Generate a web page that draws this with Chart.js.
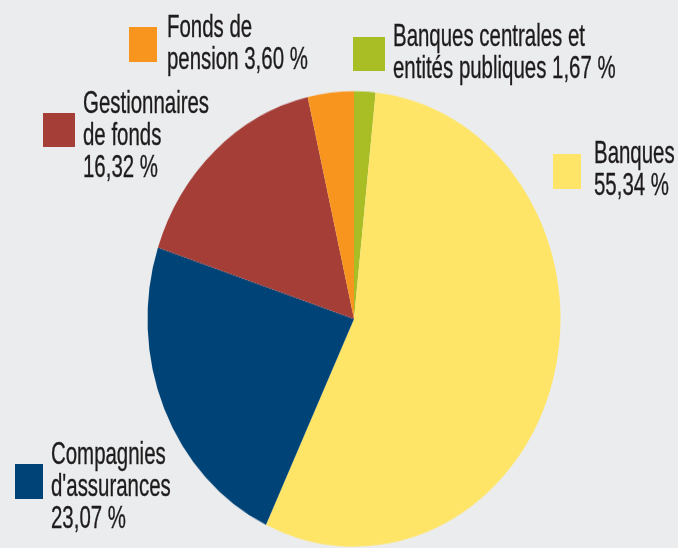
<!DOCTYPE html>
<html>
<head>
<meta charset="utf-8">
<script src="https://cdn.jsdelivr.net/npm/chart.js@4.4.0/dist/chart.umd.min.js"></script>
<style>
  html, body { margin: 0; padding: 0; background: #ebecee; }
  #wrap { position: relative; width: 678px; height: 548px; overflow: hidden; background: #ebecee; }
  #pieBox { position: absolute; left: 0; top: 0; width: 678px; height: 497px; transform-origin: 0 0; transform: scaleY(1.1026); }
  .lbl { position: absolute; font-family: "Liberation Sans", Arial, sans-serif; font-size: 30.5px; line-height: 32px;
         color: #1e1b1c; -webkit-text-stroke: 0.35px #1e1b1c; white-space: nowrap; transform-origin: 0 0; transform: scaleX(0.67); }
  .sw { position: absolute; }
</style>
</head>
<body>
<div id="wrap">
  <div id="pieBox"><canvas id="pie" width="678" height="497"></canvas></div>
</div>
<script>
// ---- data (clockwise from 12 o'clock) ----
const CATEGORIES = [
  ['Banques centrales et', 'entités publiques'],
  ['Banques'],
  ['Compagnies', "d'assurances"],
  ['Gestionnaires', 'de fonds'],
  ['Fonds de', 'pension'],
];
const SHARES = [1.67, 55.34, 23.07, 16.32, 3.60];
const SLICE_COLORS = ['#a9bd25', '#fee568', '#004477', '#a43e37', '#f7951e'];
// whether the value goes on the last name line or on its own line
const VALUE_INLINE = [true, false, false, false, true];

// legend placement (page px): swatch box + text left / top
const LEGEND_POS = [
  { sx: 353, sy: 37,  sw: 32, sh: 34, tx: 393, ty: 18.5 },
  { sx: 553, sy: 154, sw: 28, sh: 35, tx: 594, ty: 136 },
  { sx: 15,  sy: 464, sw: 28, sh: 35, tx: 51,  ty: 437 },
  { sx: 43,  sy: 113, sw: 32, sh: 34, tx: 83,  ty: 86 },
  { sx: 129, sy: 27,  sw: 28, sh: 35, tx: 167, ty: 9.5 },
];

const fmtPct = v => v.toFixed(2).replace('.', ',') + ' %';

// ---- pie ----
new Chart(document.getElementById('pie'), {
  type: 'pie',
  data: {
    labels: CATEGORIES.map(c => c.join(' ')),
    datasets: [{ data: SHARES, backgroundColor: SLICE_COLORS, borderWidth: 0 }],
  },
  options: {
    responsive: false,
    animation: false,
    layout: { padding: { left: 147.5, right: 117.5, top: 82.8, bottom: 1.2 } },
    plugins: { legend: { display: false }, tooltip: { enabled: false } },
  },
});

// ---- labels ----
const wrap = document.getElementById('wrap');
CATEGORIES.forEach((lines, i) => {
  const p = LEGEND_POS[i];
  const sw = document.createElement('div');
  sw.className = 'sw';
  Object.assign(sw.style, { left: p.sx + 'px', top: p.sy + 'px', width: p.sw + 'px', height: p.sh + 'px', background: SLICE_COLORS[i] });
  wrap.appendChild(sw);

  const txt = lines.slice();
  if (VALUE_INLINE[i]) txt[txt.length - 1] += ' ' + fmtPct(SHARES[i]);
  else txt.push(fmtPct(SHARES[i]));
  const el = document.createElement('div');
  el.className = 'lbl';
  el.style.left = p.tx + 'px';
  el.style.top = p.ty + 'px';
  el.innerHTML = txt.map(t => t.replace(/&/g, '&amp;')).join('<br>');
  wrap.appendChild(el);
});
</script>
</body>
</html>
